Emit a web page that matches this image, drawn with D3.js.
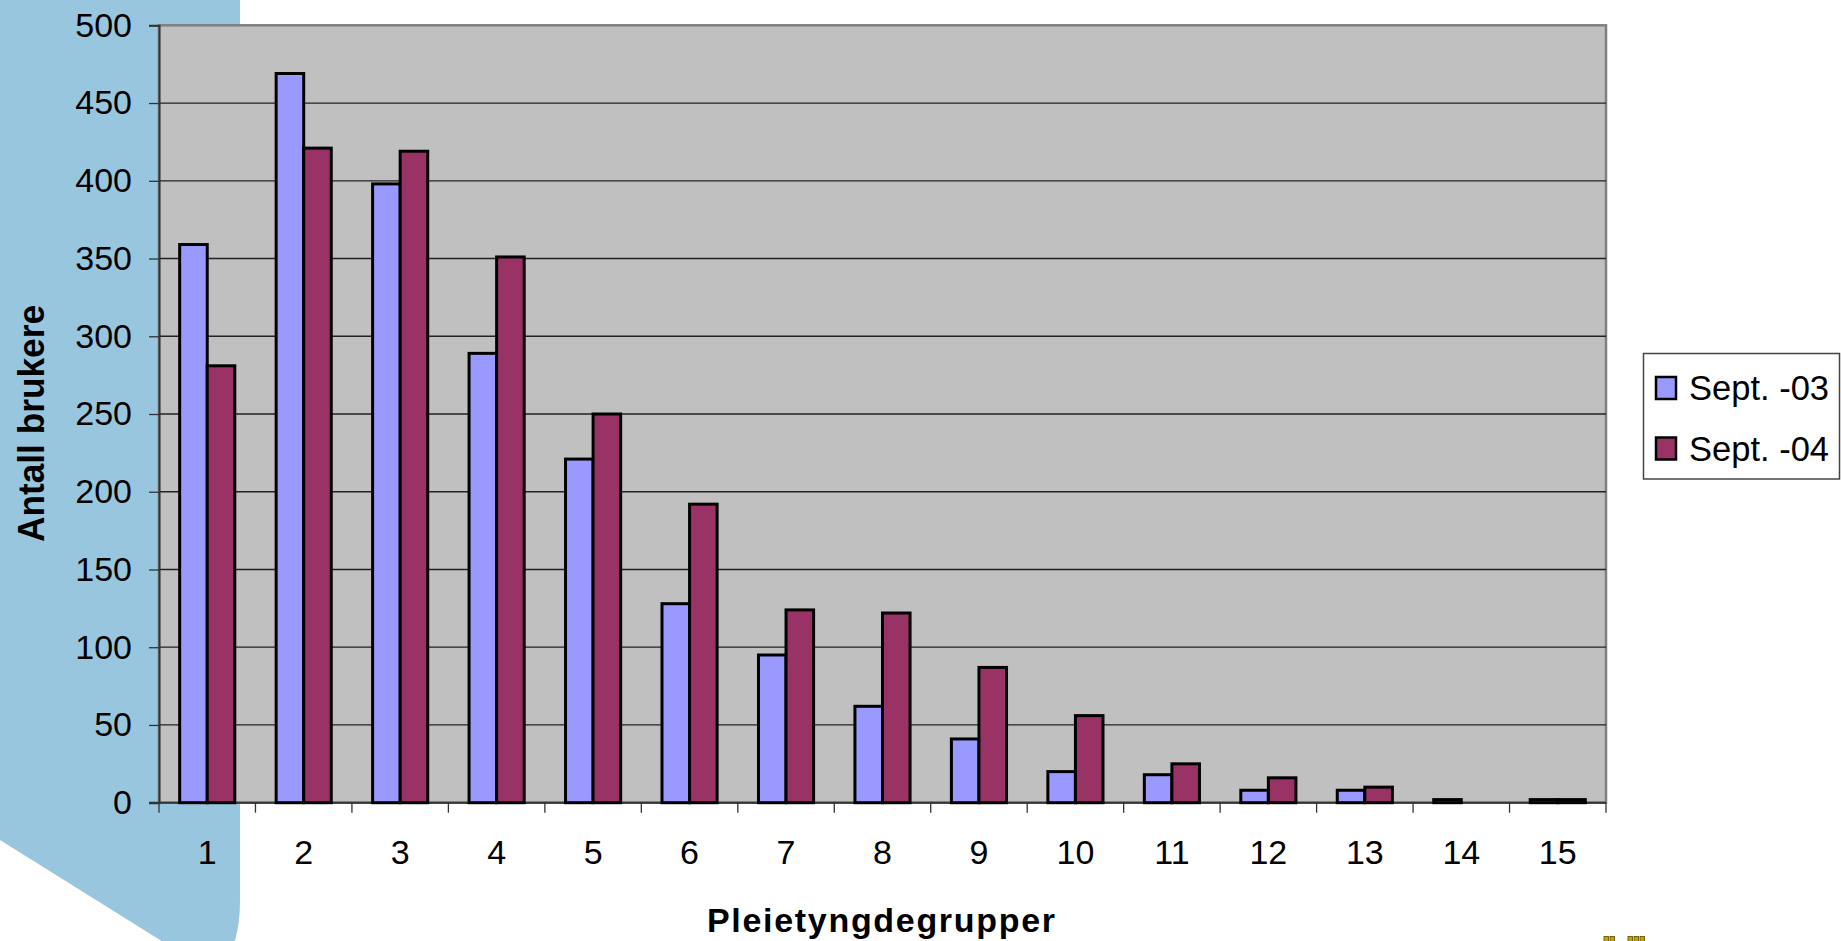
<!DOCTYPE html>
<html>
<head>
<meta charset="utf-8">
<script src="https://cdn.jsdelivr.net/npm/d3@7"></script>
<style>
  body { margin: 0; background: #fff; }
  svg { display: block; font-family: "Liberation Sans", Arial, sans-serif; }
</style>
</head>
<body>
<svg id="chart" width="1841" height="941"></svg>
<script>
// data
const groups = ["1","2","3","4","5","6","7","8","9","10","11","12","13","14","15"];
const seriesNames = ["Sept. -03", "Sept. -04"];
const sept03 = [359, 469, 398, 289, 221, 128, 95, 62, 41, 20, 18, 8, 8, 2, 2];
const sept04 = [281, 421, 419, 351, 250, 192, 124, 122, 87, 56, 25, 16, 10, 0, 2];
const yTicks = [0, 50, 100, 150, 200, 250, 300, 350, 400, 450, 500];
const colors = ["#9999FF", "#993366"];

const svg = d3.select("#chart");

// plot area
const plotLeft = 159, plotRight = 1606, plotTop = 25.3, plotBottom = 802.7;

// blue decoration on the left
svg.append("path")
  .attr("d", "M0,0 H240 V900 C240,925 236,945 224,965 L200,965 L0,840 Z")
  .attr("fill", "#99C6DF");

// scales
const x0 = d3.scaleBand().domain(groups).range([plotLeft, plotRight]);
const x1 = d3.scaleBand().domain(seriesNames).range([0, x0.bandwidth()])
  .paddingInner(0).paddingOuter(0.75);
const y = d3.scaleLinear().domain([0, 500]).range([plotBottom, plotTop]);

// plot background
svg.append("rect")
  .attr("x", plotLeft).attr("y", plotTop)
  .attr("width", plotRight - plotLeft).attr("height", plotBottom - plotTop)
  .attr("fill", "#C0C0C0")
  .attr("stroke", "#808080")
  .attr("stroke-width", 2.5);

// gridlines
svg.append("g")
  .selectAll("line")
  .data(yTicks.filter(d => d > 0 && d < 500))
  .enter()
  .append("line")
    .attr("x1", plotLeft).attr("x2", plotRight)
    .attr("y1", d => y(d)).attr("y2", d => y(d))
    .attr("stroke", "#222")
    .attr("stroke-width", 1.3);

// y axis
const yAxis = svg.append("g")
  .attr("transform", `translate(${plotLeft},0)`)
  .call(d3.axisLeft(y).tickValues(yTicks).tickSize(10).tickPadding(17));
yAxis.select(".domain").attr("stroke", "#333").attr("stroke-width", 2);
yAxis.selectAll(".tick line").attr("stroke", "#333").attr("stroke-width", 1.3);
yAxis.selectAll(".tick text")
  .attr("font-size", 34)
  .attr("font-family", "Liberation Sans, Arial, sans-serif")
  .attr("fill", "#000");

// x axis line and ticks at band edges
const xAxis = svg.append("g");
xAxis.append("line")
  .attr("x1", plotLeft - 10).attr("x2", plotRight)
  .attr("y1", plotBottom).attr("y2", plotBottom)
  .attr("stroke", "#333").attr("stroke-width", 2);
xAxis.selectAll(".xtick")
  .data(groups.map(g => x0(g)).concat([x0(groups[groups.length - 1]) + x0.bandwidth()]))
  .enter()
  .append("line")
    .attr("class", "xtick")
    .attr("x1", d => d).attr("x2", d => d)
    .attr("y1", plotBottom).attr("y2", plotBottom + 10)
    .attr("stroke", "#333").attr("stroke-width", 1.3);
xAxis.selectAll(".xlabel")
  .data(groups)
  .enter()
  .append("text")
    .attr("class", "xlabel")
    .attr("x", d => x0(d) + x0.bandwidth() / 2)
    .attr("y", 864)
    .attr("text-anchor", "middle")
    .attr("font-size", 34)
    .text(d => d);

// bars
const rows = groups.map((g, i) => ({ group: g, values: [sept03[i], sept04[i]] }));
svg.append("g")
  .selectAll("g")
  .data(rows)
  .enter()
  .append("g")
    .attr("transform", d => `translate(${x0(d.group)},0)`)
  .selectAll("rect")
  .data(d => d.values.map((v, k) => ({ name: seriesNames[k], value: v, k: k })).filter(e => e.value > 0))
  .enter()
  .append("rect")
    .attr("x", d => x1(d.name))
    .attr("width", x1.bandwidth())
    .attr("y", d => y(d.value))
    .attr("height", d => y(0) - y(d.value))
    .attr("fill", d => colors[d.k])
    .attr("stroke", "#000")
    .attr("stroke-width", 3);

// axis titles
svg.append("text")
  .attr("transform", "translate(44,423.5) rotate(-90)")
  .attr("text-anchor", "middle")
  .attr("font-size", 37)
  .attr("font-weight", "bold")
  .attr("textLength", 237)
  .attr("lengthAdjust", "spacingAndGlyphs")
  .text("Antall brukere");

svg.append("text")
  .attr("x", 881)
  .attr("y", 931.5)
  .attr("text-anchor", "middle")
  .attr("font-size", 34)
  .attr("font-weight", "bold")
  .attr("textLength", 348)
  .attr("lengthAdjust", "spacing")
  .text("Pleietyngdegrupper");

// legend
const legend = svg.append("g");
legend.append("rect")
  .attr("x", 1643.5).attr("y", 353.5)
  .attr("width", 196).attr("height", 125.5)
  .attr("fill", "#fff")
  .attr("stroke", "#444")
  .attr("stroke-width", 1.5);
const items = legend.selectAll(".item")
  .data(seriesNames)
  .enter()
  .append("g")
    .attr("class", "item")
    .attr("transform", (d, i) => `translate(0,${i * 60.5})`);
items.append("rect")
  .attr("x", 1656).attr("y", 377)
  .attr("width", 20).attr("height", 22)
  .attr("fill", (d, i) => colors[i])
  .attr("stroke", "#000")
  .attr("stroke-width", 2.5);
items.append("text")
  .attr("x", 1689).attr("y", 400)
  .attr("font-size", 34.5)
  .text(d => d);

// small logo at the bottom edge
const logo = svg.append("g").attr("fill", "#C2A400").attr("stroke", "#5a4a00").attr("stroke-width", 0.8);
[1604, 1610, 1628, 1634, 1640].forEach(px => {
  logo.append("rect").attr("x", px).attr("y", 936.5).attr("width", 4.5).attr("height", 6);
});
</script>
</body>
</html>
